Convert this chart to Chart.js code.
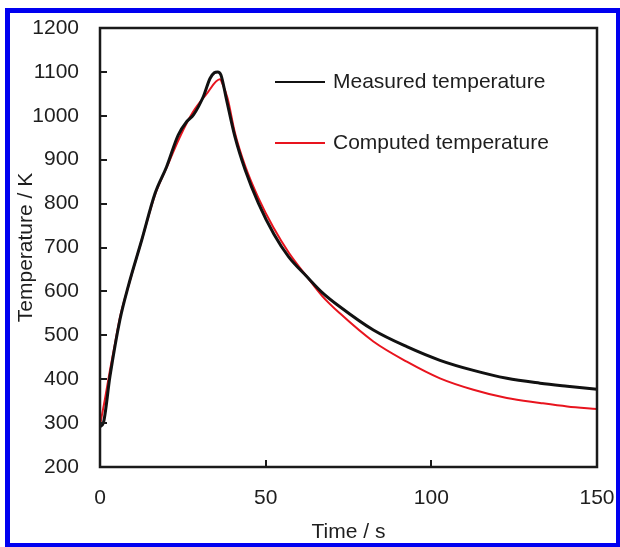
<!DOCTYPE html>
<html>
<head>
<meta charset="utf-8">
<script src="https://cdn.jsdelivr.net/npm/chart.js@4.4.1/dist/chart.umd.min.js"></script>
<style>
  html, body { margin: 0; padding: 0; background: #fff; }
  #wrap { position: relative; width: 620px; height: 547px; overflow: hidden; background: #fff; }
  #chartCanvas { position: absolute; left: 0; top: 0; }
  #frame {
    position: absolute; left: 5px; top: 8px; width: 615px; height: 539px;
    box-sizing: border-box; border: 5px solid #0000f0;
    border-bottom-width: 4px; border-right-width: 4px; pointer-events: none;
  }
</style>
</head>
<body>
<div id="wrap">
  <canvas id="chartCanvas" width="620" height="547"></canvas>
  <div id="frame"></div>
</div>
<script>
// values
const measuredTime = [0, 1, 3, 6, 8.5, 12.6, 16.6, 20.1, 23.6, 26.2, 28.2, 31.2, 33.2, 34.5, 35.5, 36.5, 38.2, 40.7, 43.8, 47.8, 52.5, 57, 62.4, 67, 72.4, 82.5, 92.6, 102.6, 112.7, 122.8, 132.8, 141, 150];
const measuredTemp = [292, 300, 406, 535, 611, 717, 823, 884, 956, 987, 1002, 1044, 1085, 1098, 1100, 1093, 1036, 953, 877, 801, 730, 678, 634, 598, 565, 512, 474, 443, 420, 402, 391, 384, 377];

const computedTime = [0, 1.5, 3, 4.5, 6, 8.5, 12.6, 16.6, 20.1, 24, 28, 32, 36.2, 37, 38.5, 40.7, 43.8, 47.8, 52.3, 57, 62.4, 67, 72.4, 82.5, 92.6, 102.6, 112.7, 122.8, 132.8, 141, 150];
const computedTemp = [295, 355, 420, 480, 540, 610, 717, 820, 882, 950, 1008, 1048, 1083, 1072, 1040, 962, 886, 813, 746, 688, 634, 590, 550, 486, 440, 402, 376, 357, 346, 338, 332];

const seriesLabels = ['Measured temperature', 'Computed temperature'];
const xMin = 0, xMax = 150, xStep = 50;
const yMin = 200, yMax = 1200, yStep = 100;

const textColor = '#1e1e1e';
const axisColor = '#1a1a1a';
const fontFamily = "'Liberation Sans', Arial, sans-serif";

function toPoints(xs, ys) {
    return xs.map((x, i) => ({ x: x, y: ys[i] }));
}

// keep the plot box exactly where the layout padding puts it
function fixScale(size) {
    return scale => {
        if (scale.isHorizontal()) scale.height = size;
        else scale.width = size;
        scale.paddingLeft = 0;
        scale.paddingRight = 0;
        scale.paddingTop = 0;
        scale.paddingBottom = 0;
    };
}

// box round the plot, inward tick marks and the legend inside the plot
const frameAndLegend = {
    id: 'frameAndLegend',
    afterDatasetsDraw(chart) {
        const { ctx, chartArea: a, scales } = chart;
        ctx.save();
        ctx.strokeStyle = axisColor;
        ctx.lineWidth = 2.5;
        ctx.strokeRect(a.left, a.top, a.right - a.left, a.bottom - a.top);

        ctx.lineWidth = 2;
        ctx.beginPath();
        scales.y.ticks.forEach(t => {
            if (t.value <= yMin || t.value >= yMax) return;
            const py = Math.round(scales.y.getPixelForValue(t.value));
            ctx.moveTo(a.left, py);
            ctx.lineTo(a.left + 7, py);
        });
        scales.x.ticks.forEach(t => {
            if (t.value <= xMin || t.value >= xMax) return;
            const px = Math.round(scales.x.getPixelForValue(t.value));
            ctx.moveTo(px, a.bottom);
            ctx.lineTo(px, a.bottom - 7);
        });
        ctx.stroke();

        ctx.font = '21px ' + fontFamily;
        ctx.textBaseline = 'middle';
        ctx.textAlign = 'left';
        chart.data.datasets.forEach((ds, i) => {
            const ly = a.top + 54 + i * 61;
            ctx.strokeStyle = ds.borderColor;
            ctx.lineWidth = 2.2;
            ctx.beginPath();
            ctx.moveTo(a.left + 175, ly);
            ctx.lineTo(a.left + 225, ly);
            ctx.stroke();
            ctx.fillStyle = textColor;
            ctx.fillText(ds.label, a.left + 233, ly);
        });
        ctx.restore();
    }
};

const ctx = document.getElementById('chartCanvas').getContext('2d');

const chart = new Chart(ctx, {
    type: 'line',
    data: {
        datasets: [
            {
                label: seriesLabels[0],
                data: toPoints(measuredTime, measuredTemp),
                borderColor: '#111111',
                borderWidth: 3,
                pointRadius: 0,
                cubicInterpolationMode: 'monotone',
                fill: false
            },
            {
                label: seriesLabels[1],
                data: toPoints(computedTime, computedTemp),
                borderColor: '#e8141e',
                borderWidth: 2,
                pointRadius: 0,
                cubicInterpolationMode: 'monotone',
                fill: false
            }
        ]
    },
    options: {
        responsive: false,
        animation: false,
        devicePixelRatio: 1,
        layout: { padding: { top: 28, right: 23, left: 0, bottom: 0 } },
        plugins: {
            legend: { display: false },
            tooltip: { enabled: false }
        },
        scales: {
            x: {
                type: 'linear',
                min: xMin,
                max: xMax,
                grid: { display: false, drawTicks: false },
                border: { display: false },
                ticks: {
                    stepSize: xStep,
                    padding: 19,
                    color: textColor,
                    font: { family: fontFamily, size: 21 },
                    maxRotation: 0,
                    callback: v => String(v)
                },
                title: {
                    display: true,
                    text: 'Time / s',
                    color: textColor,
                    font: { family: fontFamily, size: 21 },
                    padding: { top: 0, bottom: 2 }
                },
                afterFit: fixScale(80)
            },
            y: {
                type: 'linear',
                min: yMin,
                max: yMax,
                grid: { display: false, drawTicks: false },
                border: { display: false },
                ticks: {
                    stepSize: yStep,
                    padding: 21,
                    color: textColor,
                    font: { family: fontFamily, size: 21 },
                    callback: v => String(v)
                },
                title: {
                    display: true,
                    text: 'Temperature / K',
                    color: textColor,
                    font: { family: fontFamily, size: 21 },
                    padding: { top: 14, bottom: 0 }
                },
                afterFit: fixScale(100)
            }
        }
    },
    plugins: [frameAndLegend]
});
</script>
</body>
</html>
